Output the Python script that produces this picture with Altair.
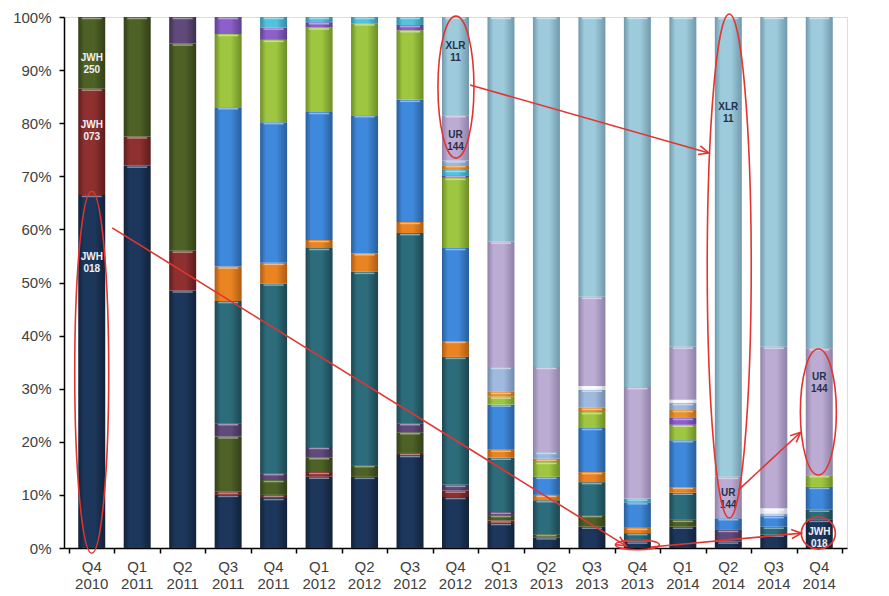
import math
import altair as alt
import pandas as pd

# ---------------- data ----------------
quarters = ["Q4", "Q1", "Q2", "Q3", "Q4", "Q1", "Q2", "Q3", "Q4",
            "Q1", "Q2", "Q3", "Q4", "Q1", "Q2", "Q3", "Q4"]
years = ["2010", "2011", "2011", "2011", "2011", "2012", "2012", "2012", "2012",
         "2013", "2013", "2013", "2013", "2014", "2014", "2014", "2014"]

# share (%) of each compound per quarter, stacked bottom -> top
jwh018 = [66.5, 72, 48.5, 10, 9.4, 13.4, 13.4, 17.5, 9.6, 4.7, 2, 4, 1.2, 4, 1.2, 2.5, 5.3]
jwh073 = [20, 5.5, 7.5, 0.6, 0.6, 0.9, 0, 0.4, 1.2, 0.5, 0, 0, 0, 0, 0, 0, 0]
jwh250 = [13.5, 22.5, 39, 10.4, 2.8, 2.8, 2.2, 3.9, 0, 1.0, 0.6, 2.2, 0, 1.3, 0, 0, 0]
cmp_dpurple = [0, 0, 5, 2.5, 1.3, 1.9, 0, 1.7, 1.1, 0.6, 0, 0, 0, 0, 2.2, 0, 0]
cmp_teal = [0, 0, 0, 23, 35.7, 37.5, 36.4, 35.8, 24.1, 10.2, 6.4, 6.2, 1.6, 5.1, 0, 1.5, 1.9]
cmp_orange = [0, 0, 0, 6.5, 3.9, 1.5, 3.5, 2.1, 3, 1.5, 1, 1.9, 1.0, 1.1, 0, 0, 0]
cmp_blue = [0, 0, 0, 30, 26.5, 24.1, 26, 23, 17.5, 8.5, 3.4, 8.3, 4.8, 8.8, 2.2, 2, 4.3]
cmp_lime = [0, 0, 0, 13.8, 15.5, 15.9, 17.3, 13.1, 13.2, 1.5, 2.8, 3.0, 0, 2.9, 0, 0, 2.2]
cmp_mpurple = [0, 0, 0, 3.2, 2.3, 1, 0, 1, 0.5, 0, 0, 0, 0, 1.3, 0, 0, 0]
cmp_cyan = [0, 0, 0, 0, 2, 1, 1.2, 1.5, 1, 0, 0, 0, 0.7, 0, 0, 0, 0]
cmp_orange2 = [0, 0, 0, 0, 0, 0, 0, 0, 0.9, 0.9, 0.6, 0.8, 0, 1.5, 0, 0, 0]
cmp_lgray = [0, 0, 0, 0, 0, 0, 0, 0, 0.9, 4.7, 1.3, 3.4, 0, 1.3, 0, 0.5, 0]
cmp_white = [0, 0, 0, 0, 0, 0, 0, 0, 0, 0, 0, 0.7, 0, 0.6, 0, 1.0, 0]
ur144 = [0, 0, 0, 0, 0, 0, 0, 0, 8.5, 23.6, 16, 16.8, 21, 10, 7.8, 30.4, 23.9]
xlr11 = [0, 0, 0, 0, 0, 0, 0, 0, 18.5, 42.3, 65.9, 52.7, 69.7, 62.1, 86.6, 62.1, 62.4]

series = [
    ("JWH-018", jwh018, "#1d375c", "#122239"),
    ("JWH-073", jwh073, "#8e3030", "#5c1d1d"),
    ("JWH-250", jwh250, "#4e6127", "#323f18"),
    ("C4", cmp_dpurple, "#604a7c", "#3e304f"),
    ("C5", cmp_teal, "#2d6c7b", "#1c4651"),
    ("C6", cmp_orange, "#ea8422", "#ad5c12"),
    ("C7", cmp_blue, "#3f89dc", "#295e9b"),
    ("C8", cmp_lime, "#9ec641", "#6d8d26"),
    ("C9", cmp_mpurple, "#8b60c8", "#5e3f8d"),
    ("C10", cmp_cyan, "#52c2de", "#348aa1"),
    ("C11", cmp_orange2, "#e99232", "#ad6a1c"),
    ("C12", cmp_lgray, "#a0b9de", "#7089ab"),
    ("C13", cmp_white, "#f6f7fb", "#c6cad3"),
    ("UR-144", ur144, "#bcacd3", "#8e80a6"),
    ("XLR-11", xlr11, "#9dcbdc", "#7099ab"),
]

rows = []
for order, (name, vals, _, _) in enumerate(series):
    for i, v in enumerate(vals):
        if v > 0:
            rows.append({"idx": i, "compound": name, "order": order, "value": v})
df = pd.DataFrame(rows)

# annotation texts inside bars
lab_idx = [0, 0, 0, 8, 8, 14, 14, 16, 16]
lab_y = [0.923, 0.797, 0.548, 0.945, 0.778, 0.830, 0.104, 0.322, 0.030]
lab_text = ["JWH\n250", "JWH\n073", "JWH\n018", "XLR\n11", "UR\n144",
            "XLR\n11", "UR\n144", "UR\n144", "JWH\n018"]
lab_light = [True, True, True, False, False, False, False, False, True]

# red ellipses (centre idx, centre share, half-width px, half-height px)
ell_idx = [0.0, 8.01, 14.02, 15.98, 15.98, 12.0]
ell_y = [0.331, 0.868, 0.531, 0.256, 0.028, 0.006]
ell_rx = [17, 18, 22, 18, 17, 22]
ell_ry = [181, 71, 252, 63, 16, 5]

# red arrows (from idx/share to idx/share)
arr_x0 = [0.45, 8.32, 14.22, 12.3]
arr_y0 = [0.603, 0.872, 0.109, 0.002]
arr_x1 = [11.75, 13.57, 15.59, 15.61]
arr_y1 = [0.004, 0.744, 0.218, 0.028]

# ---------------- chart ----------------
W, H = 783, 531
N = len(quarters)
XDOM = [-0.5, N - 0.5]
FONT = "Liberation Sans"
RED = "#e3342f"


def lighten(hexcol, t):
    r, g, b = (int(hexcol[k:k + 2], 16) for k in (1, 3, 5))
    r, g, b = (round(c + (255 - c) * t) for c in (r, g, b))
    return f"#{r:02x}{g:02x}{b:02x}"


xs = alt.Scale(domain=XDOM, nice=False, zero=False)
ys = alt.Scale(domain=[0, 1], nice=False, zero=False)
xaxis = alt.Axis(values=[i - 0.5 for i in range(N + 1)], labels=False, title=None,
                 ticks=True, tickSize=5, tickColor="#000", tickWidth=1.5,
                 domainColor="#000", domainWidth=1.5, grid=False)
yaxis = alt.Axis(values=[i / 10 for i in range(11)], format=".0%", title=None,
                 tickSize=5, tickColor="#000", tickWidth=1.5,
                 domainColor="#000", domainWidth=1.5, grid=False,
                 labelFont=FONT, labelFontSize=15, labelColor="#404040",
                 labelPadding=8)


def X(field):
    return alt.X(field, scale=xs, axis=xaxis, title=None)


def Y(field):
    return alt.Y(field, scale=ys, axis=yaxis, title=None)


base = alt.Chart(df).transform_stack(
    stack="value", groupby=["idx"], as_=["y0", "y1"],
    sort=[alt.SortField("order", order="ascending")], offset="normalize",
)

layers = []
for name, _, col, edge in series:
    grad = alt.Gradient(
        gradient="linear", x1=0, x2=1, y1=0, y2=0,
        stops=[alt.GradientStop(color=edge, offset=0),
               alt.GradientStop(color=col, offset=0.22),
               alt.GradientStop(color=col, offset=0.6),
               alt.GradientStop(color=edge, offset=1)],
    )
    layers.append(
        base.transform_filter(alt.datum.compound == name)
        .mark_bar(size=27, fill=grad)
        .encode(x=X("idx:Q"), y=Y("y0:Q"), y2="y1:Q")
    )

# light bevel line at the top of every segment
names = [s[0] for s in series]
highs = [lighten(s[2], 0.5) for s in series]
layers.append(
    base.mark_tick(orient="horizontal", thickness=1.5, size=20, yOffset=1.5, opacity=0.85)
    .encode(x=X("idx:Q"), y=Y("y1:Q"),
            color=alt.Color("compound:N", scale=alt.Scale(domain=names, range=highs),
                            legend=None))
)

# x axis category labels
xl = pd.DataFrame({"idx": list(range(N)),
                   "lab": [q + "\n" + y for q, y in zip(quarters, years)]})
layers.append(
    alt.Chart(xl).mark_text(lineBreak="\n", baseline="top", font=FONT, fontSize=15,
                            color="#404040", lineHeight=17)
    .encode(x=X("idx:Q"), y=alt.value(H + 12), text="lab:N")
)

# bar annotations
ld = pd.DataFrame({"idx": lab_idx, "y": lab_y, "t": lab_text, "light": lab_light})
for light, colr in [(True, "#eef0f4"), (False, "#27304a")]:
    layers.append(
        alt.Chart(ld).transform_filter(alt.datum.light == light)
        .mark_text(lineBreak="\n", baseline="middle", font=FONT, fontSize=10,
                   fontWeight="bold", color=colr, lineHeight=12)
        .encode(x=X("idx:Q"), y=Y("y:Q"), text="t:N")
    )

# ellipses
for cx, cy, rx, ry in zip(ell_idx, ell_y, ell_rx, ell_ry):
    R = max(rx, ry)
    a, b = rx / R, ry / R
    path = f"M {-a} 0 A {a} {b} 0 1 0 {a} 0 A {a} {b} 0 1 0 {-a} 0 Z"
    layers.append(
        alt.Chart(pd.DataFrame({"idx": [cx], "y": [cy]}))
        .mark_point(shape=path, size=4 * R * R, filled=False, stroke=RED,
                    strokeWidth=1.6, opacity=1)
        .encode(x=X("idx:Q"), y=Y("y:Q"))
    )

# arrows
ad = pd.DataFrame({"x0": arr_x0, "y0": arr_y0, "x1": arr_x1, "y1": arr_y1})
layers.append(
    alt.Chart(ad).mark_rule(color=RED, strokeWidth=1.6)
    .encode(x=X("x0:Q"), y=Y("y0:Q"), x2="x1:Q", y2="y1:Q")
)
for x0, y0, x1, y1 in zip(arr_x0, arr_y0, arr_x1, arr_y1):
    dx = (x1 - x0) * W / N
    dy = -(y1 - y0) * H
    ang = math.degrees(math.atan2(dx, -dy)) % 360
    layers.append(
        alt.Chart(pd.DataFrame({"idx": [x1], "y": [y1]}))
        .mark_point(shape="M -0.45 1 L 0 0 L 0.45 1", size=400, angle=ang,
                    filled=False, stroke=RED, strokeWidth=1.6, opacity=1)
        .encode(x=X("idx:Q"), y=Y("y:Q"))
    )

chart = alt.layer(*layers).properties(
    width=W, height=H,
    autosize=alt.AutoSizeParams(type="none"),
    padding={"left": 56, "top": 9, "right": 34, "bottom": 46},
).configure_view(strokeWidth=0).configure(background="white")

chart.save("out.html", embed_options={"renderer": "svg", "actions": False})
